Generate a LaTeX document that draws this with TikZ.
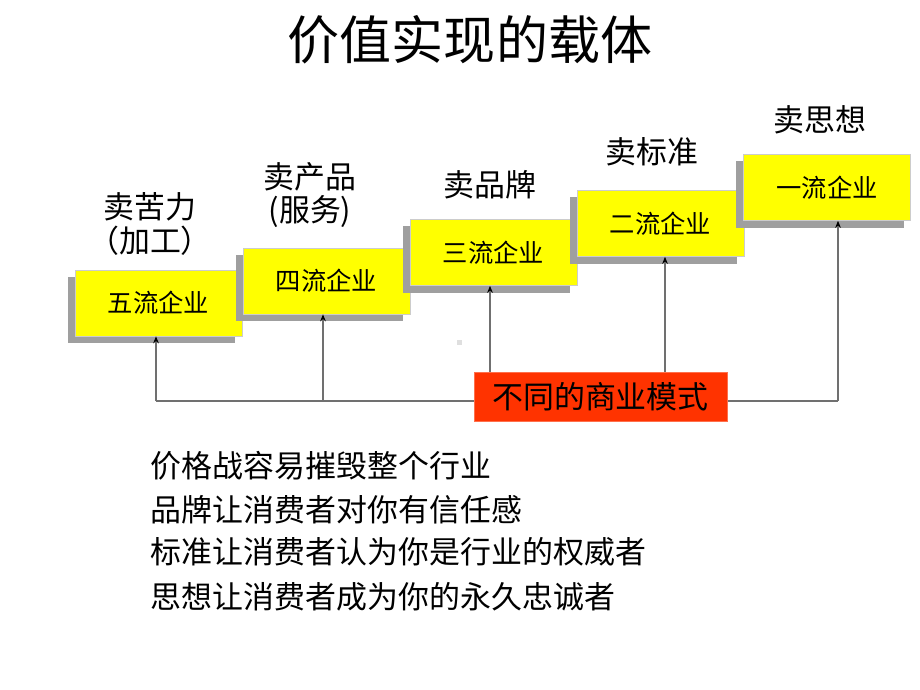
\documentclass[tikz,border=0pt]{standalone}
\usepackage{fontspec}
\setmainfont{Noto Sans CJK SC}
\usetikzlibrary{shadows,arrows.meta}
\definecolor{boxyellow}{HTML}{FFFF00}
\definecolor{modelred}{HTML}{FF3300}
\definecolor{linegray}{HTML}{707070}
\begin{document}
\begin{tikzpicture}[x=0.025cm, y=-0.025cm,
  firm/.style={rectangle, fill=boxyellow, draw=gray!40, line width=0.4pt, minimum width=4.175cm, minimum height=1.65cm, inner sep=0pt, font=\fontsize{18}{20}\selectfont, drop shadow={shadow xshift=-0.175cm, shadow yshift=-0.175cm, fill=gray!75, opacity=1}},
  sell/.style={align=center, font=\fontsize{22}{24}\selectfont},
  link/.style={draw=linegray, line width=0.8pt},
  up/.style={link, -{Stealth[black, length=5pt, width=4pt]}}]
\useasboundingbox (0,0) rectangle (920,690);
\node[font=\fontsize{37}{40}\selectfont] (title) at (470,40){价值实现的载体};
\node[firm] (b5) at (158.5,303){五流企业};
\node[firm] (b4) at (326.5,281){四流企业};
\node[firm] (b3) at (493.5,252.5){三流企业};
\node[firm] (b2) at (660.5,223.5){二流企业};
\node[firm] (b1) at (827,187.5){一流企业};
\node[sell] (s5) at (150,224){卖苦力\\（加工）};
\node[sell] (s4) at (310,195){卖产品\\(服务)};
\node[sell] (s3) at (490,185){卖品牌};
\node[sell] (s2) at (652,152){卖标准};
\node[sell] (s1) at (820,120){卖思想};
\coordinate (f5) at (156,401);
\coordinate (f4) at (323,401);
\coordinate (f3) at (490,401);
\coordinate (f2) at (665,401);
\coordinate (f1) at (838,401);
\draw[link] (f5) -- (f1);
\draw[up] (f5) -- (f5 |- b5.south);
\draw[up] (f4) -- (f4 |- b4.south);
\draw[up] (f3) -- (f3 |- b3.south);
\draw[up] (f2) -- (f2 |- b2.south);
\draw[up] (f1) -- (f1 |- b1.south);
\node[rectangle, fill=modelred, draw=modelred!70, minimum width=6.325cm, minimum height=1.225cm, font=\fontsize{22}{24}\selectfont] (model) at (600.5,396.5){不同的商业模式};
\fill[gray!25] (457,340) rectangle (462,345);
\node[anchor=west, font=\fontsize{22}{24}\selectfont] (t1) at (146,466){价格战容易摧毁整个行业};
\node[anchor=west, font=\fontsize{22}{24}\selectfont] (t2) at (146,510){品牌让消费者对你有信任感};
\node[anchor=west, font=\fontsize{22}{24}\selectfont] (t3) at (146,552){标准让消费者认为你是行业的权威者};
\node[anchor=west, font=\fontsize{22}{24}\selectfont] (t4) at (146,597){思想让消费者成为你的永久忠诚者};
\end{tikzpicture}
\end{document}
